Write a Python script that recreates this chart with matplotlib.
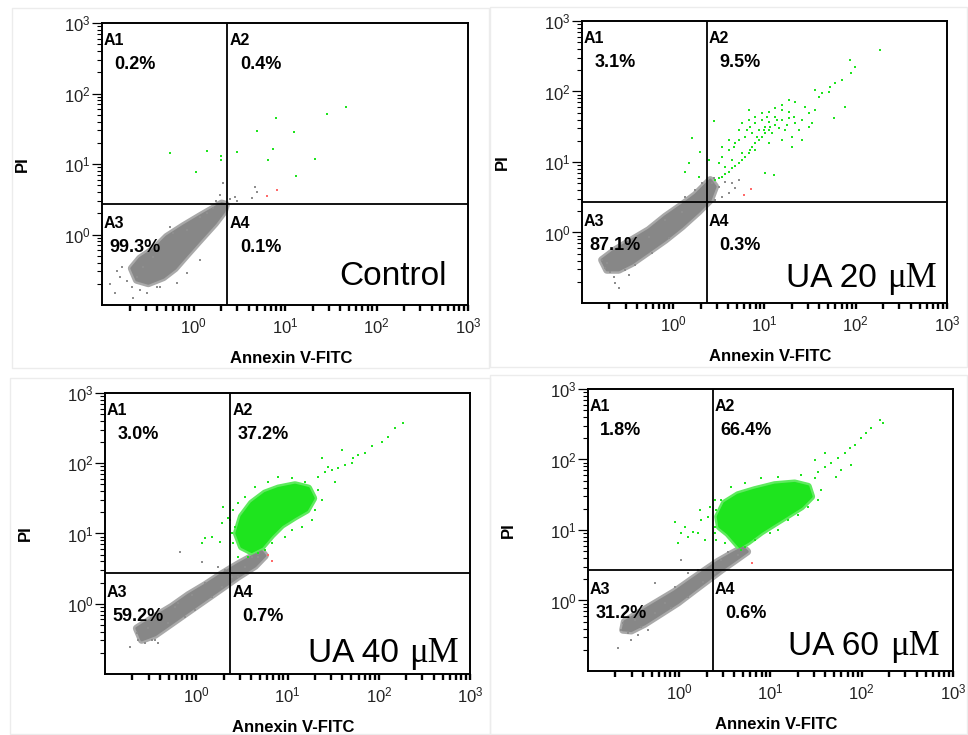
import numpy as np
import matplotlib
matplotlib.use("Agg")
import matplotlib.pyplot as plt
from matplotlib.ticker import FixedLocator, LogLocator, FuncFormatter, NullFormatter
from matplotlib.patches import Rectangle

plt.rcParams['font.family'] = ['Liberation Sans', 'DejaVu Sans']
plt.rcParams['mathtext.fontset'] = 'custom'
plt.rcParams['mathtext.rm'] = 'Liberation Sans'
plt.rcParams['mathtext.it'] = 'Liberation Sans:italic'
plt.rcParams['mathtext.bf'] = 'Liberation Sans:bold'

# ---------------- data (log10 fluorescence: Annexin V-FITC, PI) ----------------
quadrant_names = ["A1", "A2", "A3", "A4"]
panel_words = ["Control", "UA 20", "UA 40", "UA 60"]
panel_units = ["", "\u03bcM", "\u03bcM", "\u03bcM"]
ctrl_pct = [0.2, 0.4, 99.3, 0.1]
ua20_pct = [3.1, 9.5, 87.1, 0.3]
ua40_pct = [3.0, 37.2, 59.2, 0.7]
ua60_pct = [1.8, 66.4, 31.2, 0.6]
gate_annexin = 2.35
gate_pi = 2.7
major_ticks = [1, 10, 100, 1000]

# Control
ctrl_gray_core = [(-0.676, -0.480), (-0.585, -0.338), (-0.421, -0.196), (-0.293, -0.031),
                  (-0.111, 0.121), (0.071, 0.262), (0.217, 0.371), (0.308, 0.442),
                  (0.355, 0.423), (0.333, 0.324), (0.235, 0.158), (0.071, -0.078),
                  (-0.075, -0.291), (-0.202, -0.480), (-0.330, -0.608), (-0.494, -0.693),
                  (-0.621, -0.645)]
ctrl_gray_pts = [(0.246, 0.480), (0.290, 0.560), (0.319, 0.726), (0.399, 0.499), (0.454, 0.537),
                 (0.479, 0.475), (0.643, 0.513), (0.672, 0.669), (0.690, 0.598), (0.217, 0.371),
                 (0.271, 0.433), (-0.840, -0.513), (-0.913, -0.702), (-0.858, -0.835),
                 (-0.658, -0.896), (-0.730, -0.655), (-0.585, -0.787), (-0.803, -0.598),
                 (-0.676, -0.740), (-0.512, -0.835), (-0.403, -0.740), (-0.785, -0.456),
                 (-0.257, 0.111), (-0.220, 0.017), (-0.075, 0.064), (0.071, 0.253),
                 (0.144, 0.300), (-0.439, -0.314), (-0.366, -0.740), (-0.184, -0.693),
                 (-0.075, -0.551), (0.071, -0.362), (-0.548, -0.456), (-0.621, -0.598)]
ctrl_green_core = []
ctrl_green_pts = [(-0.257, 1.160), (0.027, 0.882), (0.151, 1.189), (0.301, 1.118), (0.301, 1.052),
                  (0.479, 1.174), (0.694, 1.472), (0.902, 1.652), (0.872, 1.209), (0.817, 1.052),
                  (1.102, 1.458), (1.120, 0.834), (1.325, 1.067), (1.462, 1.709), (1.667, 1.809)]
ctrl_red_pts = [(0.800, 0.550), (0.916, 0.627)]

# UA 20 uM
ua20_gray_core = [(-0.781, -0.390), (-0.635, -0.248), (-0.452, -0.106), (-0.269, 0.035),
                  (-0.087, 0.225), (0.096, 0.390), (0.242, 0.532), (0.352, 0.674),
                  (0.406, 0.745), (0.461, 0.650), (0.406, 0.461), (0.279, 0.296),
                  (0.096, 0.083), (-0.087, -0.106), (-0.269, -0.272), (-0.452, -0.437),
                  (-0.598, -0.532), (-0.726, -0.532)]
ua20_gray_pts = [(-0.781, -0.390), (-0.744, -0.508), (-0.653, -0.626), (-0.598, -0.792),
                 (-0.635, -0.721), (-0.525, -0.532), (-0.689, -0.556), (-0.489, -0.603),
                 (-0.726, -0.437), (0.425, 0.697), (0.498, 0.650), (0.571, 0.721),
                 (0.644, 0.697), (0.717, 0.745), (0.534, 0.508), (0.607, 0.556),
                 (0.680, 0.626), (0.461, 0.461), (0.315, 0.697), (0.242, 0.603),
                 (0.132, 0.508), (0.443, 0.768), (-0.269, -0.059), (-0.087, 0.177),
                 (0.096, 0.296), (-0.050, -0.083), (-0.233, -0.296), (-0.416, -0.461)]
ua20_green_core = []
ua20_green_pts = [(0.461, 0.745), (0.498, 0.768), (0.534, 0.792), (0.571, 0.830), (0.607, 0.863),
                  (0.644, 0.910), (0.680, 0.943), (0.717, 0.981), (0.753, 1.028), (0.790, 1.076),
                  (0.826, 1.123), (0.845, 1.170), (0.863, 1.217), (0.900, 1.265), (0.936, 1.312),
                  (0.973, 1.359), (1.009, 1.407), (1.046, 1.454),
                  (0.753, 1.548), (0.826, 1.596), (0.900, 1.643), (0.973, 1.690), (1.046, 1.572),
                  (1.119, 1.643), (1.192, 1.596), (1.265, 1.619), (1.338, 1.548), (1.228, 1.454),
                  (1.155, 1.478), (1.082, 1.407), (1.009, 1.501), (0.936, 1.454), (0.863, 1.407),
                  (0.790, 1.359), (0.717, 1.312), (0.662, 1.217), (0.607, 1.170), (0.534, 1.076),
                  (0.498, 0.981), (0.571, 0.934), (0.644, 1.028), (0.900, 1.548), (1.192, 1.738),
                  (1.265, 1.714), (1.046, 1.714), (0.973, 1.596), (1.119, 1.525), (1.374, 1.454),
                  (1.301, 1.359), (1.192, 1.312), (1.046, 1.265), (0.900, 1.170), (0.753, 1.123),
                  (1.411, 1.596), (1.484, 1.690), (1.557, 1.738), (1.521, 1.548), (1.594, 1.927),
                  (1.630, 1.974), (1.703, 1.998), (1.776, 2.116), (1.721, 2.069), (1.849, 2.163),
                  (1.886, 1.785), (1.758, 1.619), (1.941, 2.447), (1.952, 2.267), (2.269, 2.589),
                  (1.995, 2.352), (1.557, 2.021), (1.447, 1.785), (1.338, 1.856), (1.265, 1.879),
                  (1.192, 1.809), (1.119, 1.761), (0.826, 1.738), (0.717, 1.454), (0.607, 1.312),
                  (0.534, 1.217), (0.205, 1.336), (0.297, 1.147), (0.279, 0.792), (0.132, 0.863),
                  (0.169, 0.981), (0.443, 1.586), (0.388, 1.028), (1.009, 0.839), (1.100, 0.816),
                  (1.301, 1.217), (1.411, 1.312), (1.484, 1.501), (0.991, 1.454), (1.064, 1.501),
                  (1.137, 1.596), (0.845, 1.501), (0.918, 1.359), (1.247, 1.525), (1.320, 1.643),
                  (1.027, 1.643), (0.808, 1.454), (0.680, 1.265)]
ua20_red_pts = [(0.772, 0.532), (0.856, 0.612)]

# UA 40 uM
ua40_gray_core = [(-0.653, -0.350), (-0.452, -0.184), (-0.269, -0.042), (-0.087, 0.125),
                  (0.096, 0.267), (0.279, 0.423), (0.461, 0.566), (0.607, 0.670),
                  (0.717, 0.741), (0.753, 0.684), (0.644, 0.537), (0.461, 0.386),
                  (0.279, 0.219), (0.096, 0.053), (-0.087, -0.113), (-0.269, -0.279),
                  (-0.452, -0.445), (-0.598, -0.516)]
ua40_gray_pts = [(-0.726, -0.611), (-0.635, -0.516), (-0.562, -0.564), (-0.452, -0.516),
                 (-0.653, -0.421), (-0.525, -0.350), (-0.379, -0.208), (-0.233, -0.042),
                 (-0.306, -0.279), (-0.196, 0.006), (-0.050, 0.125), (0.096, 0.291),
                 (0.169, 0.101), (-0.178, 0.741), (0.059, 0.599), (0.242, 0.528),
                 (0.315, 0.480), (0.388, 0.386), (0.461, 0.386), (0.534, 0.528),
                 (0.607, 0.670), (0.680, 0.670), (0.279, 0.243), (-0.014, -0.089),
                 (-0.489, -0.516), (-0.416, -0.564), (-0.123, -0.184)]
ua40_green_core = [(0.443, 1.002), (0.498, 1.240), (0.607, 1.429), (0.753, 1.572), (0.900, 1.643),
                   (1.082, 1.690), (1.228, 1.643), (1.283, 1.501), (1.210, 1.335), (1.082, 1.240),
                   (0.936, 1.121), (0.826, 0.979), (0.717, 0.813), (0.607, 0.741), (0.498, 0.813)]
ua40_green_pts = [(0.370, 1.192), (0.406, 1.335), (0.461, 1.429), (0.534, 1.524), (0.644, 1.667),
                  (0.790, 1.738), (0.900, 1.809), (1.046, 1.785), (1.192, 1.738), (1.338, 1.619),
                  (1.374, 1.477), (1.301, 1.335), (1.265, 1.192), (1.155, 1.097), (1.046, 1.050),
                  (0.973, 0.955), (0.826, 0.860), (0.753, 0.765), (0.680, 0.718), (0.571, 0.670),
                  (0.461, 0.670), (0.406, 0.860), (0.388, 1.002), (0.425, 1.097), (0.096, 0.931),
                  (0.169, 0.955), (0.260, 0.884), (0.059, 0.860), (0.297, 1.382), (0.352, 1.216),
                  (0.279, 1.145), (1.338, 1.809), (1.411, 1.880), (1.484, 1.904), (1.557, 1.928),
                  (1.630, 1.975), (1.703, 1.999), (1.721, 2.070), (1.776, 2.117), (1.849, 2.141),
                  (1.922, 2.246), (2.032, 2.307), (2.105, 2.378), (2.178, 2.497), (2.269, 2.578),
                  (1.594, 2.189), (1.374, 2.070), (1.447, 1.951), (1.521, 1.738)]
ua40_red_pts = [(0.790, 0.694), (0.826, 0.613)]

# UA 60 uM
ua60_gray_core = [(-0.598, -0.300), (-0.416, -0.158), (-0.233, -0.017), (-0.050, 0.125),
                  (0.132, 0.291), (0.279, 0.423), (0.425, 0.551), (0.571, 0.660),
                  (0.699, 0.749), (0.746, 0.693), (0.607, 0.565), (0.461, 0.433),
                  (0.315, 0.291), (0.169, 0.149), (-0.014, -0.031), (-0.196, -0.182),
                  (-0.379, -0.333), (-0.525, -0.428), (-0.616, -0.418)]
ua60_gray_pts = [(-0.635, -0.418), (-0.671, -0.678), (-0.562, -0.466), (-0.525, -0.560),
                 (-0.452, -0.489), (-0.616, -0.324), (-0.489, -0.277), (-0.269, 0.243),
                 (-0.269, -0.182), (-0.050, 0.196), (0.023, 0.574), (0.096, 0.385),
                 (0.205, 0.433), (0.260, 0.267), (0.096, 0.054), (-0.160, -0.040),
                 (0.534, 0.693), (0.644, 0.645), (0.461, 0.574), (0.388, 0.385),
                 (-0.416, -0.371), (-0.342, -0.418), (-0.087, -0.111)]
ua60_green_core = [(0.425, 1.189), (0.498, 1.378), (0.644, 1.496), (0.826, 1.567), (1.046, 1.638),
                   (1.265, 1.662), (1.411, 1.615), (1.447, 1.473), (1.338, 1.331), (1.192, 1.213),
                   (1.046, 1.095), (0.900, 0.976), (0.753, 0.835), (0.662, 0.764), (0.534, 0.953),
                   (0.443, 1.047)]
ua60_green_pts = [(0.388, 1.426), (0.406, 1.284), (0.388, 1.047), (0.388, 0.953), (0.406, 0.858),
                  (0.461, 1.426), (0.571, 1.615), (0.717, 1.662), (0.900, 1.733), (1.082, 1.756),
                  (1.338, 1.780), (1.484, 1.733), (1.557, 1.567), (1.521, 1.426), (1.411, 1.331),
                  (1.301, 1.213), (1.192, 1.142), (1.082, 1.000), (0.991, 0.953), (0.826, 0.858),
                  (0.680, 0.716), (0.717, 0.764), (0.607, 0.858), (0.498, 0.811), (0.224, 1.284),
                  (0.242, 1.142), (0.205, 0.953), (0.096, 0.905), (-0.014, 0.811), (-0.050, 1.118),
                  (0.059, 1.047), (0.151, 0.976), (0.279, 0.858), (0.315, 1.189), (0.333, 1.331),
                  (0.023, 0.953), (1.521, 1.827), (1.594, 1.898), (1.667, 1.946), (1.740, 2.017),
                  (1.813, 2.087), (1.868, 2.158), (1.922, 2.206), (1.995, 2.300), (2.050, 2.371),
                  (2.105, 2.442), (2.196, 2.560), (2.233, 2.513), (1.594, 2.087), (1.721, 1.756),
                  (1.886, 1.922), (1.776, 1.851), (1.484, 1.993)]
ua60_red_pts = [(0.801, 0.527)]

# ---------------- styling / layout ----------------
GRAY = "#878787"
GRAY_HALO = "#a9a9a9"
GRAY_DOT = "#8e8e8e"
GREEN = "#1ee41e"
GREEN_HALO = "#5fea5f"
RED = "#ff6b6b"
PX = 72.0 / 100.0  # points per pixel

fig = plt.figure(figsize=(9.68, 7.35), dpi=100)
fig.patch.set_facecolor("white")

# faint frames around each sub-figure
for (x0, y0, x1, y1) in [(12, 8, 489, 368), (490, 7, 967, 367), (10, 378, 490, 734), (490, 375, 967, 734)]:
    fig.add_artist(Rectangle((x0 / 968, 1 - y1 / 735), (x1 - x0) / 968, (y1 - y0) / 735,
                             transform=fig.transFigure, fill=False, ec="#ececec", lw=1.0))

axes_rects = [[0.1054, 0.5850, 0.3781, 0.3837],
              [0.6012, 0.5878, 0.3771, 0.3837],
              [0.1085, 0.0830, 0.3771, 0.3823],
              [0.6074, 0.0871, 0.3771, 0.3837]]
title_offsets = [(21, 20), (10, 16), (11, 12), (13, 16)]

panels = [
    (ctrl_gray_core, ctrl_gray_pts, ctrl_green_core, ctrl_green_pts, ctrl_red_pts, ctrl_pct),
    (ua20_gray_core, ua20_gray_pts, ua20_green_core, ua20_green_pts, ua20_red_pts, ua20_pct),
    (ua40_gray_core, ua40_gray_pts, ua40_green_core, ua40_green_pts, ua40_red_pts, ua40_pct),
    (ua60_gray_core, ua60_gray_pts, ua60_green_core, ua60_green_pts, ua60_red_pts, ua60_pct),
]

def to_lin(pairs):
    a = np.array(pairs, dtype=float)
    return 10 ** a[:, 0], 10 ** a[:, 1]

def fmt(v, pos):
    return r"$10^{%d}$" % int(round(np.log10(v)))

def draw_cloud(ax, pairs, face, halo):
    x, y = to_lin(pairs)
    ax.fill(x, y, facecolor=halo, edgecolor=halo, lw=5.5, joinstyle="round", zorder=1.5)
    ax.fill(x, y, facecolor=face, edgecolor=face, lw=2.0, joinstyle="round", zorder=1.6)

renderer = fig.canvas.get_renderer()

for i, (gcore, gpts, grcore, grpts, rpts, pct) in enumerate(panels):
    ax = fig.add_axes(axes_rects[i])
    ax.set_xscale("log")
    ax.set_yscale("log")
    ax.set_xlim(0.1, 1000)
    ax.set_ylim(0.1, 1000)

    # populations
    draw_cloud(ax, gcore, GRAY, GRAY_HALO)
    x, y = to_lin(gpts)
    ax.scatter(x, y, s=4.5, marker="s", c=GRAY_DOT, linewidths=0, zorder=2)
    if grcore:
        draw_cloud(ax, grcore, GREEN, GREEN_HALO)
    x, y = to_lin(grpts)
    ax.scatter(x, y, s=4.0, marker="s", c=GREEN, linewidths=0, zorder=2)
    x, y = to_lin(rpts)
    ax.scatter(x, y, s=4.5, marker="s", c=RED, linewidths=0, zorder=2)

    # quadrant gates
    ax.axvline(gate_annexin, color="black", lw=1.3, zorder=3)
    ax.axhline(gate_pi, color="black", lw=1.3, zorder=3)

    # axes styling
    for sp in ax.spines.values():
        sp.set_linewidth(1.4)
        sp.set_color("black")
    for axis in (ax.xaxis, ax.yaxis):
        axis.set_major_locator(FixedLocator(major_ticks))
        axis.set_major_formatter(FuncFormatter(fmt))
        axis.set_minor_locator(LogLocator(base=10, subs=np.arange(2, 10)))
        axis.set_minor_formatter(NullFormatter())
    ax.tick_params(axis="x", which="both", direction="out", length=4.5, width=1.7,
                   pad=4, labelsize=12, colors="black", labelcolor="#222222")
    ax.tick_params(axis="y", which="major", direction="out", length=7, width=0.9,
                   pad=1, labelsize=12, colors="black", labelcolor="#222222")
    ax.tick_params(axis="y", which="minor", direction="out", length=3.6, width=0.8)
    ax.set_zorder(1)

    # axis titles
    ax.annotate("Annexin V-FITC", xy=(0.5, 0), xycoords="axes fraction",
                xytext=(6 * PX, -58 * PX), textcoords="offset points",
                ha="center", va="baseline", fontsize=12, fontweight="bold")
    ax.annotate("PI", xy=(0, 0.5), xycoords="axes fraction",
                xytext=(-80 * PX, 0), textcoords="offset points",
                ha="center", va="center", rotation=90, fontsize=12, fontweight="bold")

    # quadrant labels
    tb = ax.get_xaxis_transform()   # x data, y axes
    ty = ax.get_yaxis_transform()   # x axes, y data
    anchors = [((0, 1), "axes fraction", -22), ((gate_annexin, 1), tb, -22),
               ((0, gate_pi), ty, -24), ((gate_annexin, gate_pi), "data", -24)]
    for q, ((xy, coords, dy), val) in enumerate(zip(anchors, pct)):
        ax.annotate(quadrant_names[q], xy=xy, xycoords=coords,
                    xytext=(2 * PX, dy * PX), textcoords="offset points",
                    ha="left", va="baseline", fontsize=11.5, fontweight="bold", zorder=5)
        ax.annotate(f"{val:.1f}%", xy=xy, xycoords=coords,
                    xytext=(33 * PX, (dy - 24) * PX), textcoords="offset points",
                    ha="center", va="baseline", fontsize=13, fontweight="bold", zorder=5)

    # treatment label
    rpx, bpx = title_offsets[i]
    right_pt = rpx * PX
    if panel_units[i]:
        tu = ax.annotate(panel_units[i], xy=(1, 0), xycoords="axes fraction",
                         xytext=(-right_pt, bpx * PX), textcoords="offset points",
                         ha="right", va="baseline", fontsize=25, family="Liberation Serif", zorder=5)
        w_pt = tu.get_window_extent(renderer).width * PX
        right_pt += w_pt + 11 * PX
    ax.annotate(panel_words[i], xy=(1, 0), xycoords="axes fraction",
                xytext=(-right_pt, bpx * PX), textcoords="offset points",
                ha="right", va="baseline", fontsize=24, zorder=5)

fig.savefig("out.png", dpi=100, facecolor="white")
